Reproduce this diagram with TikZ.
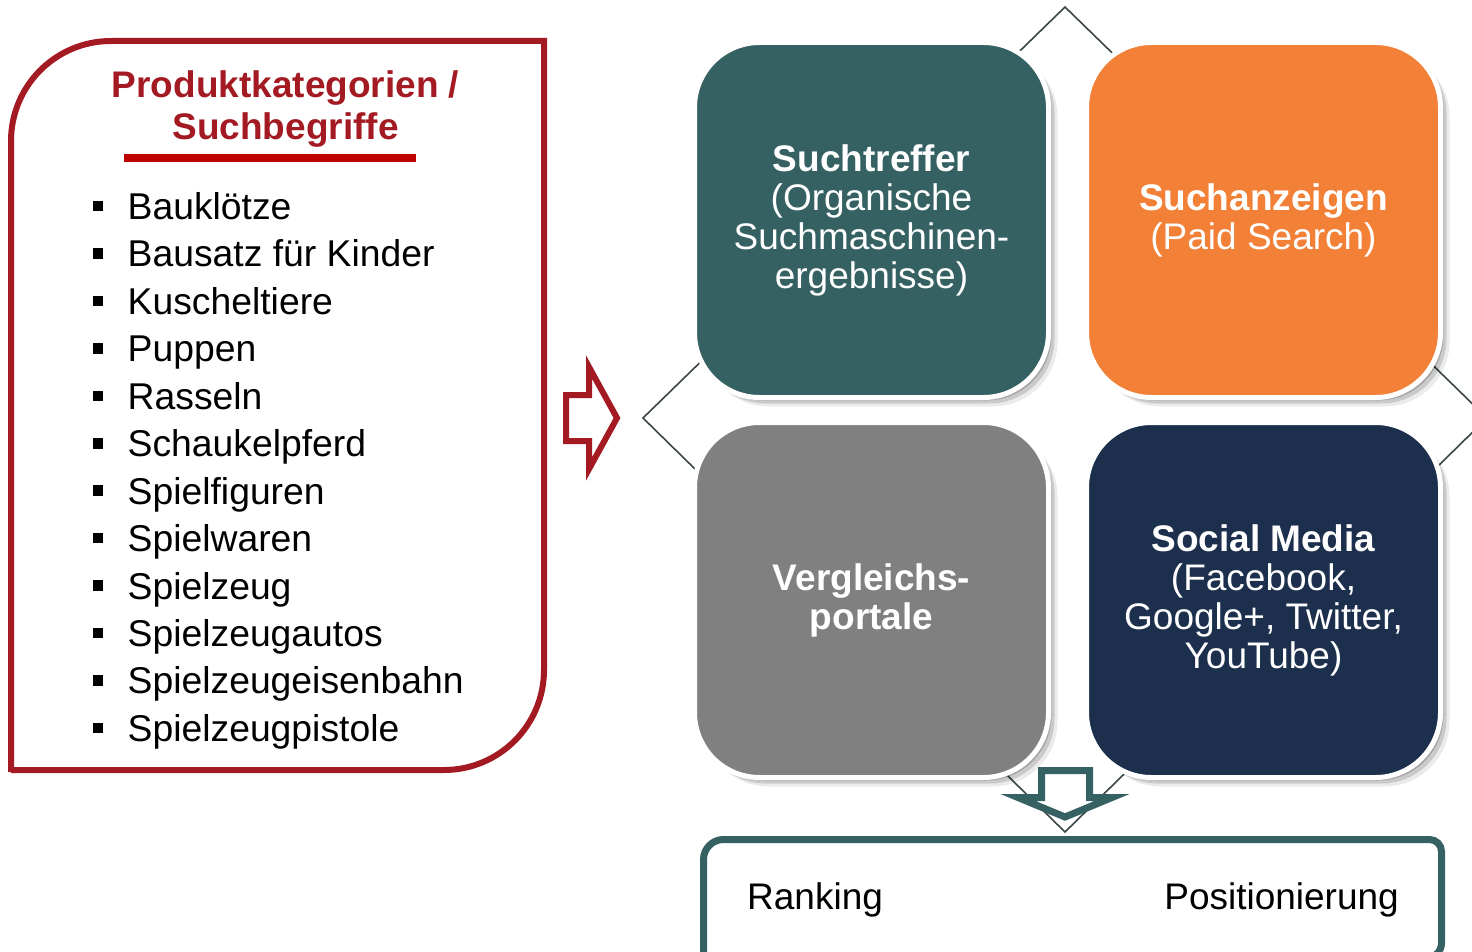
\documentclass[tikz,border=0pt]{standalone}
\usepackage{fontspec}
\setmainfont{Liberation Sans}
\usetikzlibrary{shadows}
\definecolor{frameRed}{HTML}{A31A23}
\definecolor{lineRed}{HTML}{C00000}
\definecolor{tealBox}{HTML}{356163}
\definecolor{orangeBox}{HTML}{F28037}
\definecolor{grayBox}{HTML}{808080}
\definecolor{navyBox}{HTML}{1C2F4C}
\definecolor{diaLine}{HTML}{3B4747}
\begin{document}
\begin{tikzpicture}[x=1pt,y=-1pt,
  tile/.style={rounded corners=65pt, minimum width=354pt, minimum height=355pt,
    inner sep=0pt, outer sep=0pt, draw=white, line width=5pt, text=white,
    align=center, font=\fontsize{37}{39}\selectfont,
    drop shadow={shadow xshift=3pt, shadow yshift=-3pt, opacity=0.18, fill=black},
    drop shadow={shadow xshift=6pt, shadow yshift=-6pt, opacity=0.14, fill=black},
    drop shadow={shadow xshift=9pt, shadow yshift=-9pt, opacity=0.08, fill=black}},
  listtext/.style={anchor=base west, inner sep=0pt, font=\fontsize{37.3}{44}\selectfont},
  bulletsq/.style={fill=black, minimum size=10.5pt, inner sep=0pt, outer sep=0pt},
  titletext/.style={anchor=base, inner sep=0pt, text=frameRed, font=\fontsize{37}{42}\selectfont\bfseries},
  bottomtext/.style={inner sep=0pt, font=\fontsize{37}{44}\selectfont},
  blockarrow/.style={fill=white, line join=miter}
]
\useasboundingbox (0,0) rectangle (1472,952);
\clip (0,0) rectangle (1472,952);

% diamond behind the tiles
\coordinate (dT) at (1065,7);
\coordinate (dR) at (1487,418);
\coordinate (dB) at (1065,832);
\coordinate (dL) at (643,418);
\draw[diaLine, line width=1.6pt] (dT) -- (dR) -- (dB) -- (dL) -- cycle;

% left frame
\draw[frameRed, line width=6pt] (11,772) -- (11,141)
  arc[start angle=180, end angle=90, radius=100pt] -- (544,41) -- (544,670)
  arc[start angle=0, end angle=-90, radius=100pt] -- (11,770) -- cycle;

\node[titletext] (t1) at (285.5,97.2) {Produktkategorien /};
\node[titletext] (t2) at (285.5,139.2) {Suchbegriffe};
\coordinate (ulA) at (124,158);
\coordinate (ulB) at (416,158);
\draw[lineRed, line width=7.5pt] (ulA) -- (ulB);

\foreach \txt [count=\i from 0] in {Bauklötze, Bausatz für Kinder, Kuscheltiere, Puppen, Rasseln, Schaukelpferd, Spielfiguren, Spielwaren, Spielzeug, Spielzeugautos, Spielzeugeisenbahn, Spielzeugpistole}{
  \pgfmathsetmacro{\cy}{206+\i*47.45}
  \node[bulletsq] (bul\i) at (98,\cy) {};
  \node[listtext] (item\i) at (127.5,\cy+13.4) {\txt};
}

% red block arrow
\draw[frameRed, line width=6pt, blockarrow] (566,395) -- (589,395) -- (589,367) -- (617,418)
  -- (589,469) -- (589,441) -- (566,441) -- cycle;

% tiles
\node[tile, fill=tealBox] (suche) at (871.5,220)
  {\textbf{Suchtreffer}\\(Organische\\Suchmaschinen-\\ergebnisse)};
\node[tile, fill=orangeBox] (anzeigen) at (1263.5,220)
  {\textbf{Suchanzeigen}\\(Paid Search)};
\node[tile, fill=grayBox, font=\fontsize{37}{39}\selectfont\bfseries] (vergleich) at (871.5,600)
  {Vergleichs-\\portale};
\node[tile, fill=navyBox] (social) at (1263.5,600)
  {\textbf{Social Media}\\(Facebook,\\Google+, Twitter,\\YouTube)};

% teal down arrow
\draw[tealBox, line width=7pt, blockarrow] (1041.5,770.5) -- (1089.5,770.5) -- (1089.5,797.5)
  -- (1112,797.5) -- (1065,817) -- (1018,797.5) -- (1041.5,797.5) -- cycle;

% bottom box
\draw[tealBox, line width=7pt] (703.5,970) -- (703.5,859.5)
  arc[start angle=180, end angle=90, radius=20pt] -- (1429.5,839.5)
  arc[start angle=90, end angle=0, radius=12pt] -- (1441.5,943)
  arc[start angle=0, end angle=-90, radius=15pt] -- (703.5,958);
\node[bottomtext, anchor=base west] (rank) at (747,909) {Ranking};
\node[bottomtext, anchor=base east] (pos) at (1399,909) {Positionierung};
\end{tikzpicture}
\end{document}
